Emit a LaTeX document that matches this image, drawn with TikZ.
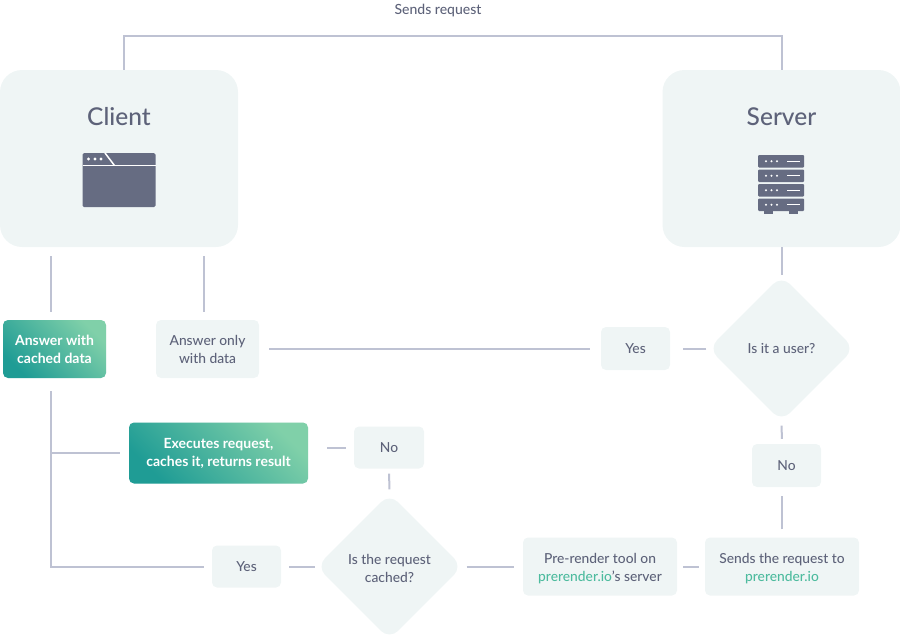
\documentclass[tikz,border=0pt]{standalone}
\usepackage{fontspec}
\setmainfont{Lato Medium}[BoldFont=Lato Bold]
\usetikzlibrary{shapes.geometric}

\definecolor{boxcol}{HTML}{EFF5F5}
\definecolor{linecol}{HTML}{BEC2D3}
\definecolor{textcol}{HTML}{5D6279}
\definecolor{iconcol}{HTML}{666C82}
\definecolor{linkcol}{HTML}{4DBB9E}
\definecolor{darkgreen}{HTML}{1F9C95}
\definecolor{lightgreen}{HTML}{80D0A9}

\newcommand{\lowrow}{\rule{0pt}{14pt}}

\tikzset{
  panel/.style={rectangle,rounded corners=22pt,fill=boxcol,minimum width=238pt,minimum height=177pt},
  title/.style={text=textcol,font=\fontsize{24.5}{28}\selectfont},
  box/.style={rectangle,rounded corners=5pt,fill=boxcol,text=textcol,align=center,inner sep=0pt,
    font=\fontsize{13.8}{18}\selectfont},
  greenbox/.style={box,left color=lightgreen,right color=darkgreen,shading angle=-45,text=white,
    font=\fontsize{14}{18}\selectfont\bfseries},
  choice/.style={diamond,aspect=1,rounded corners=12pt,fill=boxcol,text=textcol,align=center,inner sep=0pt,
    minimum width=146pt,minimum height=146pt,font=\fontsize{13.8}{18}\selectfont},
  link/.style={draw=linecol,line width=2pt}
}

\begin{document}
\begin{tikzpicture}[x=1pt,y=-1pt]
  \useasboundingbox (0,0) rectangle (900,640);

  % Panels
  \node[panel] (client) at (119,158.5) {};
  \node[panel] (server) at (781.5,158.5) {};
  \node[title] (clientname) at (119,116.5) {Client};
  \node[title] (servername) at (781.5,116.5) {Server};

  % Steps
  \node[greenbox,minimum width=103pt,minimum height=58pt] (cached) at (54.5,349) {Answer with\\cached data};
  \node[box,minimum width=103pt,minimum height=58pt] (only) at (207.5,349) {Answer only\\with data};
  \node[box,minimum width=69pt,minimum height=43pt] (yesuser) at (635.5,348.5) {Yes};
  \node[choice] (isuser) at (781.5,348.5) {Is it a user?};
  \node[box,minimum width=69pt,minimum height=43pt] (nouser) at (786.5,465.5) {No};
  \node[greenbox,minimum width=179pt,minimum height=61pt] (executes) at (218.5,453) {Executes request,\\caches it, returns result};
  \node[box,minimum width=70pt,minimum height=42pt] (nocache) at (389,447.5) {No};
  \node[box,minimum width=69pt,minimum height=42pt] (yescache) at (246.5,566.5) {Yes};
  \node[choice] (iscached) at (389.5,566.5) {\lowrow Is the request\\cached?};
  \node[box,minimum width=154pt,minimum height=58pt] (tool) at (600,566.5) {\lowrow Pre-render tool on\\\textcolor{linkcol}{prerender.io}’s server};
  \node[box,minimum width=154pt,minimum height=58pt] (sends) at (782,566.5) {\lowrow Sends the request to\\\textcolor{linkcol}{prerender.io}};

  % Request on top
  \coordinate (toprun) at (438,36);
  \node[text=textcol,font=\fontsize{14}{16}\selectfont] (sendslabel) at (438,10.5) {Sends request};
  \draw[link] ([xshift=5pt]client.north) |- (toprun) -| (server.north);

  % Connectors
  \coordinate (trunk) at (51,0);
  \coordinate (branch) at (204,0);
  \draw[link,shorten <=9pt,shorten >=8pt] (trunk |- client.south) -- (trunk |- cached.north);
  \draw[link,shorten <=9pt,shorten >=8pt] (branch |- client.south) -- (branch |- only.north);
  \draw[link,shorten <=13pt,shorten >=8pt] (trunk |- cached.south) |- (yescache.west);
  \draw[link,shorten >=9pt] (trunk |- executes.west) -- (executes.west);
  \draw[link,shorten <=19pt,shorten >=8pt] (nocache.west -| executes.east) -- (nocache.west);
  \draw[link,shorten <=5pt,shorten >=4pt] (nocache.south) -- (iscached.north);
  \draw[link,shorten <=8pt,shorten >=1pt] (yescache.east) -- (iscached.west);
  \draw[link,shorten <=4pt,shorten >=9pt] (iscached.east) -- (tool.west);
  \draw[link,shorten <=6pt,shorten >=6pt] (tool.east) -- (sends.west);
  \draw[link,shorten <=8pt,shorten >=9pt] (sends.north) -- (sends.north |- nouser.south);
  \draw[link,shorten <=5pt,shorten >=4pt] (sends.north |- nouser.north) -- (isuser.south);
  \draw[link,shorten >=0pt] (server.south) -- (isuser.north);
  \draw[link,shorten <=2pt,shorten >=13pt] (isuser.west) -- (yesuser.east);
  \draw[link,shorten <=11pt,shorten >=10pt] (yesuser.west) -- (only.east |- yesuser.west);

  % Browser icon
  \fill[iconcol,rounded corners=1.5pt] (82.5,153) rectangle (155.5,207);
  \draw[white,line width=1.5pt] (82.5,165.5) -- (155.5,165.5);
  \draw[white,line width=1.5pt] (105,153) -- (114.5,165.5);
  \foreach \x in {88.5,95,101}
    \fill[white] (\x,159) circle (1.7pt);

  % Rack icon
  \foreach \y in {155,169.5,184,198.5} {
    \fill[iconcol,rounded corners=1pt] (758,\y) rectangle (804,\y+12.5);
    \foreach \x in {766,771.5,777}
      \fill[white] (\x,\y+6.25) circle (1.2pt);
    \draw[white,line width=1.2pt] (787,\y+6.25) -- (800,\y+6.25);
  }
  \fill[iconcol] (764,210) rectangle (773,214);
  \fill[iconcol] (789,210) rectangle (798,214);
\end{tikzpicture}
\end{document}
